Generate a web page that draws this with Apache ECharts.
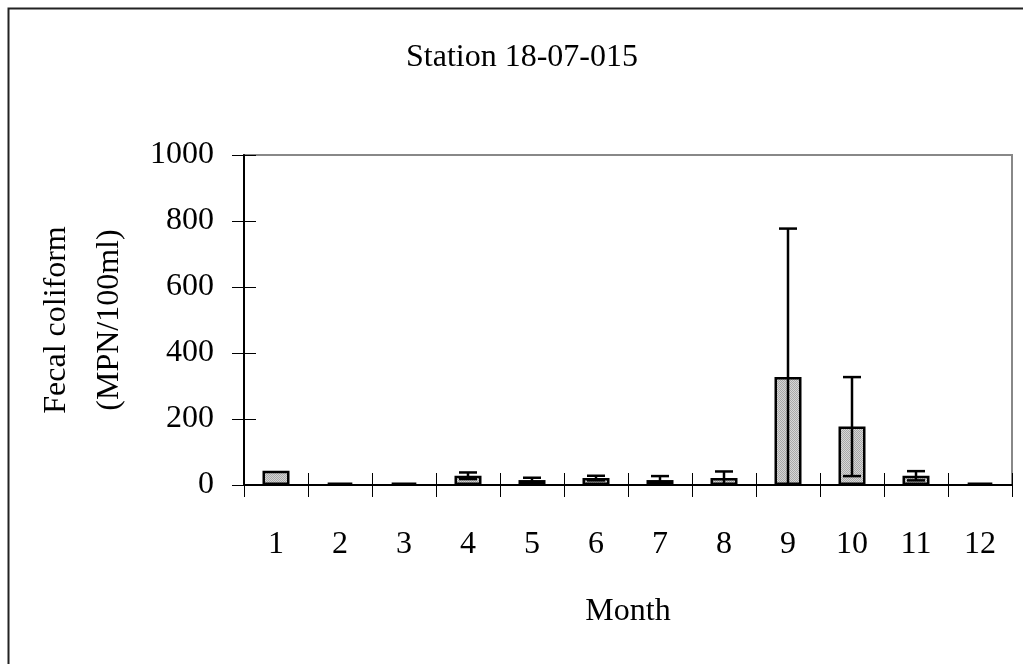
<!DOCTYPE html>
<html>
<head>
<meta charset="utf-8">
<style>
  html, body { margin: 0; padding: 0; background: #fff; }
  #chart { width: 1023px; height: 664px; }
</style>
<script src="https://cdn.jsdelivr.net/npm/echarts@6/dist/echarts.min.js"></script>
</head>
<body>
<div id="chart"></div>
<script>
// ---- data ----
const months = ['1', '2', '3', '4', '5', '6', '7', '8', '9', '10', '11', '12'];
const meanValues = [43, 7, 7, 28, 15, 21, 15, 21, 327, 177, 28, 7];
const errorValues = [0, 0, 0, 10, 7, 7, 12, 20, 450, 150, 14, 0];
const yTicks = { min: 0, max: 1000, interval: 200 };
const titleText = 'Station 18-07-015';
const yName = 'Fecal coliform\n(MPN/100ml)';
const xName = 'Month';

// ---- dotted gray fill pattern ----
const pat = document.createElement('canvas');
pat.width = 2; pat.height = 2;
const pctx = pat.getContext('2d');
pctx.fillStyle = '#d6d6d6'; pctx.fillRect(0, 0, 2, 2);
pctx.fillStyle = '#a8a8a8'; pctx.fillRect(0, 0, 1, 1); pctx.fillRect(1, 1, 1, 1);

const FONT = "'Liberation Serif', 'Times New Roman', serif";
const errData = meanValues.map((m, i) => [i, m - errorValues[i], m + errorValues[i], errorValues[i]]);

const chart = echarts.init(document.getElementById('chart'));
chart.setOption({
  backgroundColor: '#fff',
  animation: false,
  title: {
    text: titleText, left: 401, top: 37,
    textStyle: { fontFamily: FONT, fontSize: 32, fontWeight: 'normal', color: '#000' }
  },
  graphic: [{
    type: 'rect', left: 6, top: 6, z: -1,
    shape: { width: 1100, height: 800 },
    style: { fill: 'none', stroke: '#222', lineWidth: 2 }
  }],
  grid: {
    left: 244, right: 11, top: 155, bottom: 179,
    show: true, borderColor: '#888', borderWidth: 2, backgroundColor: 'transparent'
  },
  xAxis: [{
    type: 'category', data: months,
    name: xName, nameLocation: 'middle', nameGap: 111,
    nameTextStyle: { fontFamily: FONT, fontSize: 32, color: '#000' },
    axisLine: { lineStyle: { color: '#000', width: 2 } },
    axisTick: { show: true, length: 12, lineStyle: { color: '#000', width: 1 } },
    axisLabel: { fontFamily: FONT, fontSize: 32, color: '#000', margin: 44 }
  }, {
    type: 'category', data: months, position: 'bottom', gridIndex: 0,
    axisLine: { show: false },
    axisTick: { show: true, inside: true, length: 12, lineStyle: { color: '#000', width: 1 } },
    axisLabel: { show: false }
  }],
  yAxis: [{
    type: 'value', min: yTicks.min, max: yTicks.max, interval: yTicks.interval,
    name: yName, nameLocation: 'middle', nameGap: 108,
    nameTextStyle: { fontFamily: FONT, fontSize: 32, color: '#000', lineHeight: 53 },
    axisLine: { show: true, lineStyle: { color: '#000', width: 2 } },
    axisTick: { show: true, length: 12, lineStyle: { color: '#000', width: 1 } },
    axisLabel: { fontFamily: FONT, fontSize: 32, color: '#000', margin: 30, formatter: v => String(v) },
    splitLine: { show: false }
  }, {
    type: 'value', min: yTicks.min, max: yTicks.max, interval: yTicks.interval, position: 'left',
    axisLine: { show: false },
    axisTick: { show: true, inside: true, length: 12, lineStyle: { color: '#000', width: 1 } },
    axisLabel: { show: false },
    splitLine: { show: false }
  }],
  series: [{
    type: 'bar', data: meanValues, barWidth: 27,
    itemStyle: { color: { image: pat, repeat: 'repeat' }, borderColor: '#000', borderWidth: 2.5 }
  }, {
    type: 'custom', data: errData, z: 5,
    renderItem: function (params, api) {
      const i = api.value(0), lo = api.value(1), hi = api.value(2), e = api.value(3);
      if (!e) return null;
      const loC = Math.max(lo, 0);
      const pHi = api.coord([i, hi]);
      const pLo = api.coord([i, loC]);
      const hw = 9;
      const style = { stroke: '#000', lineWidth: 2.5 };
      const children = [
        { type: 'line', shape: { x1: pHi[0], y1: pHi[1], x2: pLo[0], y2: pLo[1] }, style },
        { type: 'line', shape: { x1: pHi[0] - hw, y1: pHi[1], x2: pHi[0] + hw, y2: pHi[1] }, style }
      ];
      if (lo > 0) children.push({ type: 'line', shape: { x1: pLo[0] - hw, y1: pLo[1], x2: pLo[0] + hw, y2: pLo[1] }, style });
      return { type: 'group', children };
    }
  }]
});
</script>
</body>
</html>
